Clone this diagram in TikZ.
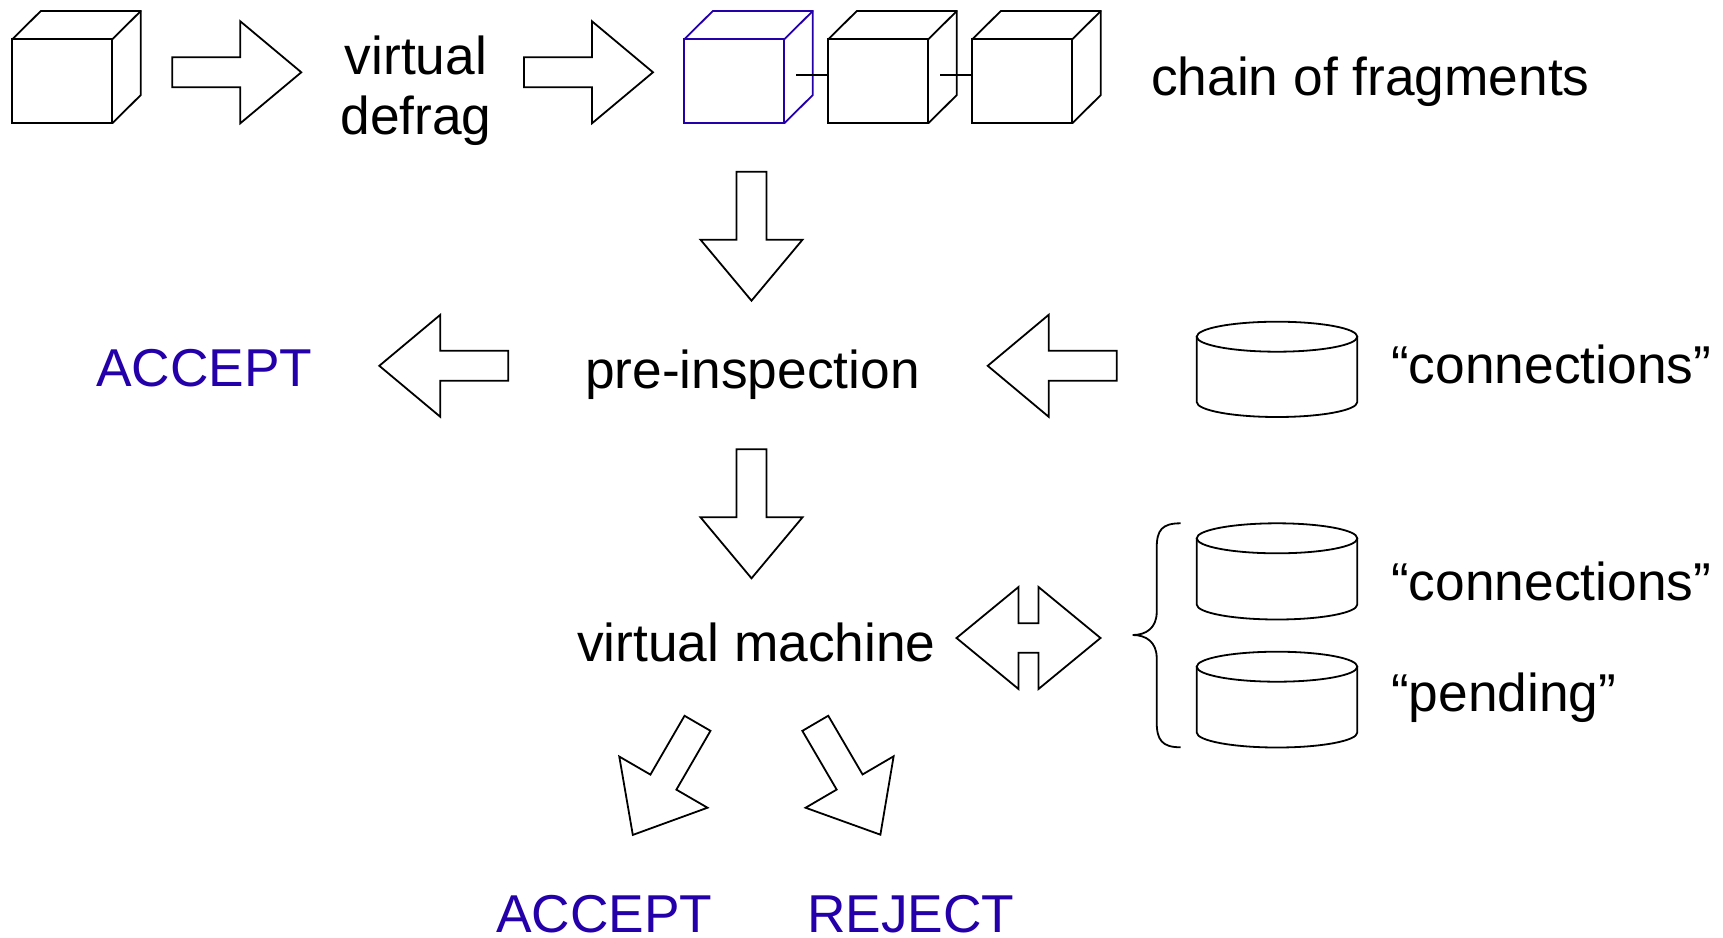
\documentclass[tikz,border=0pt]{standalone}
\usepackage{fontspec}
\setmainfont{Liberation Sans}
\definecolor{myblue}{RGB}{36,0,170}
\tikzset{
  lw/.style={line width=1.8pt, line join=miter},
  cubeface/.style={draw, lw, minimum width=100pt, minimum height=84pt, inner sep=0pt, outer sep=0pt, anchor=north west},
  blockarrow/.pic={\draw[lw] (0,-15) -- (68,-15) -- (68,-51) -- (129,0) -- (68,51) -- (68,15) -- (0,15) -- cycle;},
  lbl/.style={inner sep=0pt, font=\fontsize{53.3pt}{60pt}\selectfont},
  bluelbl/.style={lbl, text=myblue},
}
\newcommand\drawcube[3]{%
  \node[cubeface, draw=#3] (#1) at (#2) {};
  \draw[lw, #3] (#1.north west) -- ++(28.5,-28.3) -- ++(100,0) -- ++(0,84) -- (#1.south east);
  \draw[lw, #3] (#1.north east) -- ++(28.5,-28.3);
}
\newcommand\drawcyl[2]{%
  \draw[lw] (1277,#1) ellipse [x radius=80.3pt, y radius=15pt];
  \draw[lw] (1196.7,#1) -- (1196.7,#2) arc[start angle=180, end angle=360, x radius=80.3pt, y radius=15pt] -- (1357.3,#1);
}
\begin{document}
\begin{tikzpicture}[x=1pt, y=-1pt]
\useasboundingbox (0,0) rectangle (1723,937);

% cubes
\drawcube{c1}{12.3,39.3}{black}
\drawcube{c2}{684.3,39.3}{myblue}
\drawcube{c3}{828.3,39.3}{black}
\drawcube{c4}{972.3,39.3}{black}
\coordinate (j1) at (796,75);
\coordinate (j2) at (940,75);
\draw[lw] (j1) -- (j1 -| c3.west);
\draw[lw] (j2) -- (j2 -| c4.west);

% top arrows and texts
\pic at (172.3,72.3) {blockarrow};
\node[lbl, anchor=base] (vd1) at (416,74) {virtual};
\node[lbl, anchor=base] (vd2) at (416,134.5) {defrag};
\pic at (524,72.3) {blockarrow};
\node[lbl, anchor=base west] (chain) at (1151,95) {chain of fragments};

% down arrow 1
\pic[rotate=-90] at (751.5,171.7) {blockarrow};

% pre-inspection row
\node[lbl, anchor=base] (pre) at (752.5,388) {pre-inspection};
\pic[rotate=180] at (508.3,365.8) {blockarrow};
\node[bluelbl, anchor=base west] (acc1) at (96,386.7) {ACCEPT};
\pic[rotate=180] at (1116.7,365.8) {blockarrow};
\drawcyl{336.7}{402}
\node[lbl, anchor=base west] (conn1) at (1391,383.3) {“connections”};

% down arrow 2
\pic[rotate=-90] at (751.5,449.3) {blockarrow};

% virtual machine row
\node[lbl, anchor=base west] (vm) at (577,661) {virtual machine};
\draw[lw] (956.5,638) -- (1018.5,587) -- (1018.5,623.3) -- (1038.5,623.3) -- (1038.5,587)
  -- (1100.5,638) -- (1038.5,689) -- (1038.5,652.7) -- (1018.5,652.7) -- (1018.5,689) -- cycle;
\draw[lw] (1180.7,523.3) .. controls (1162,523.3) and (1156.7,530) .. (1156.7,548)
  -- (1156.7,612) .. controls (1156.7,628) and (1146,635) .. (1132.7,635)
  .. controls (1146,635) and (1156.7,642) .. (1156.7,658)
  -- (1156.7,722) .. controls (1156.7,740) and (1162,747.3) .. (1180.7,747.3);
\drawcyl{538.3}{604.5}
\drawcyl{666.7}{732.5}
\node[lbl, anchor=base west] (conn2) at (1391,600.7) {“connections”};
\node[lbl, anchor=base west] (pend) at (1391,711.7) {“pending”};

% diagonal arrows
\pic[rotate=-120.1] at (697.5,723.3) {blockarrow};
\pic[rotate=-59.7] at (815.3,723.3) {blockarrow};

\node[bluelbl, anchor=base west] (acc2) at (496,932) {ACCEPT};
\node[bluelbl, anchor=base west] (rej) at (807,932) {REJECT};
\end{tikzpicture}
\end{document}
